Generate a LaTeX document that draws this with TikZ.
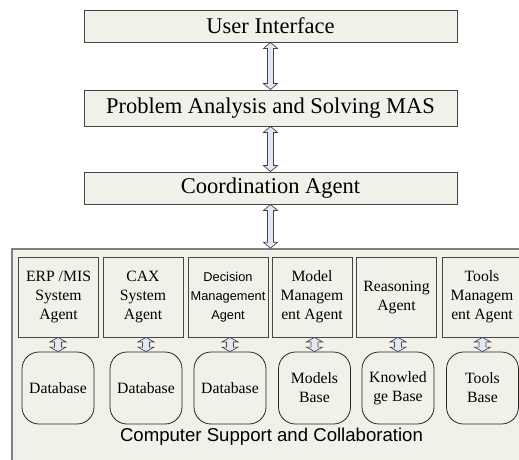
\documentclass[tikz,border=0pt]{standalone}
\usepackage{fontspec}
\setmainfont{Liberation Serif}
\setsansfont{Liberation Sans}
\usetikzlibrary{calc}

\definecolor{paper}{RGB}{241,241,234}
\definecolor{edge}{RGB}{70,70,70}
\definecolor{frame}{RGB}{128,128,128}
\definecolor{arrowfill}{RGB}{226,232,246}

\tikzset{
  layer/.style={draw=edge, line width=0.9pt, fill=paper, minimum width=373pt,
    inner sep=0pt, font=\fontsize{22.5}{27}\selectfont},
  agentbox/.style={draw=edge, line width=0.8pt, fill=paper, minimum width=80pt,
    minimum height=80pt, inner sep=0pt, align=center,
    font=\fontsize{15.7}{19}\selectfont},
  storebox/.style={draw=black!85, line width=0.8pt, fill=paper, rounded corners=17pt,
    minimum width=72pt, minimum height=72pt, inner sep=0pt, align=center,
    font=\fontsize{15.7}{19}\selectfont},
  link/.style={draw=edge, line width=0.7pt, fill=arrowfill, line join=miter},
}

% block double arrow from the bottom of #1 down to the top of #2
% #3 half shaft width, #4 half head width, #5 head length
\newcommand{\twowayarrow}[5]{%
  \path[link] let \p1=(#1.south), \p2=(#2.north -| #1.south) in
    (\x1,\y1) -- (\x1+#4,\y1-#5) -- (\x1+#3,\y1-#5) -- (\x1+#3,\y2+#5)
    -- (\x1+#4,\y2+#5) -- (\x1,\y2) -- (\x1-#4,\y2+#5) -- (\x1-#3,\y2+#5)
    -- (\x1-#3,\y1-#5) -- (\x1-#4,\y1-#5) -- cycle;}

\begin{document}
\begin{tikzpicture}[x=1pt, y=-1pt]
\useasboundingbox (0,0) rectangle (519,459);
\clip (0,0) rectangle (519,459);

% upper layers
\node[layer, minimum height=32pt] (ui) at (270.5,26) {User Interface};
\node[layer, minimum height=36pt] (pa) at (270.5,108) {Problem Analysis and Solving MAS};
\node[layer, minimum height=32pt] (ca) at (270.5,188) {Coordination Agent};

% support frame
\node[draw=frame, line width=1.5pt, fill=paper, minimum width=518pt,
  minimum height=222pt, inner sep=0pt] (support) at (271,360) {};
\node[font=\sffamily\fontsize{18.6}{22}\selectfont] (supportlabel) at (271.5,437)
  {Computer Support and Collaboration};

% agents
\node[agentbox] (a1) at (58.5,297) {ERP /MIS\\System\\Agent};
\node[agentbox] (a2) at (143,297) {CAX\\System\\Agent};
\node[agentbox, font=\sffamily\fontsize{12.8}{19}\selectfont] (a3) at (228,297)
  {Decision\\Management\\Agent};
\node[agentbox] (a4) at (312,297) {Model\\Managem\\ent Agent};
\node[agentbox] (a5) at (396.5,297) {Reasoning\\Agent};
\node[agentbox] (a6) at (482,297) {Tools\\Managem\\ent Agent};

% data stores
\node[storebox] (d1) at (58,388) {Database};
\node[storebox] (d2) at (146,388) {Database};
\node[storebox] (d3) at (230,388) {Database};
\node[storebox] (d4) at (314.5,388) {Models\\Base};
\node[storebox] (d5) at (398,388) {Knowled\\ge Base};
\node[storebox] (d6) at (482.5,388) {Tools\\Base};

% links between layers
\twowayarrow{ui}{pa}{3pt}{7pt}{6pt}
\twowayarrow{pa}{ca}{3pt}{7pt}{6pt}
\twowayarrow{ca}{support}{3pt}{7pt}{6pt}

% links between agents and their stores
\foreach \i in {1,...,6}{
  \coordinate (top\i) at (a\i.south -| d\i.north);
}
\twowayarrow{top1}{d1}{3.5pt}{8pt}{4.5pt}
\twowayarrow{top2}{d2}{3.5pt}{8pt}{4.5pt}
\twowayarrow{top3}{d3}{3.5pt}{8pt}{4.5pt}
\twowayarrow{top4}{d4}{3.5pt}{8pt}{4.5pt}
\twowayarrow{top5}{d5}{3.5pt}{8pt}{4.5pt}
\twowayarrow{top6}{d6}{3.5pt}{8pt}{4.5pt}
\end{tikzpicture}
\end{document}
